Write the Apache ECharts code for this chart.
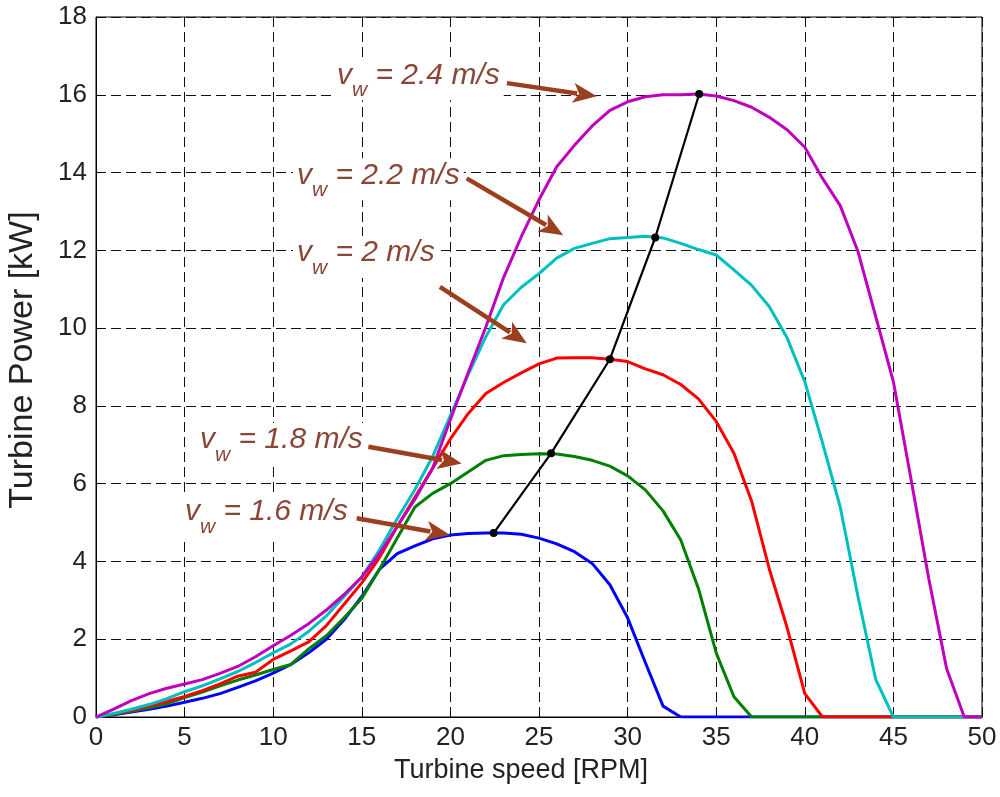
<!DOCTYPE html>
<html lang="en">
<head>
  <meta charset="UTF-8">
  <title>Turbine power vs speed</title>
  <script src="https://cdn.jsdelivr.net/npm/echarts@6/dist/echarts.min.js"></script>
  <style>
    body { margin: 0; background: #ffffff; }
    #main { width: 1000px; height: 797px; }
  </style>
</head>
<body>
  <div id="main"></div>
  <script>
    // turbine speed [RPM], one point per RPM
    const speed = [0,1,2,3,4,5,6,7,8,9,10,11,12,13,14,15,16,17,18,19,20,21,22,23,24,25,
      26,27,28,29,30,31,32,33,34,35,36,37,38,39,40,41,42,43,44,45,46,47,48,49,50];

    // turbine power [kW] per wind speed
    const p16 = [0,0.06,0.13,0.2,0.28,0.38,0.48,0.6,0.76,0.93,1.13,1.35,1.65,2.0,2.5,3.1,3.8,4.2,4.4,4.58,
      4.68,4.72,4.73,4.73,4.7,4.6,4.45,4.25,3.95,3.4,2.55,1.4,0.28,0,0,0,0,0,0,0,0,0,0,0,0,0,0,0,0,0,0];
    const p18 = [0,0.07,0.15,0.24,0.34,0.5,0.64,0.8,0.95,1.08,1.22,1.35,1.75,2.09,2.55,3.05,3.8,4.6,5.4,5.75,
      6.0,6.3,6.6,6.72,6.75,6.77,6.76,6.7,6.6,6.45,6.2,5.84,5.3,4.55,3.3,1.65,0.52,0,0,0,0,0,0,0,0,0,0,0,0,0,0];
    const p20 = [0,0.08,0.17,0.28,0.4,0.53,0.68,0.85,1.05,1.15,1.48,1.7,1.93,2.35,2.9,3.45,4.1,4.9,5.65,6.4,
      7.15,7.8,8.32,8.6,8.85,9.08,9.23,9.24,9.24,9.2,9.14,8.95,8.8,8.55,8.18,7.6,6.78,5.55,3.8,2.3,
      0.6,0,0,0,0,0,0,0,0,0,0];
    const p22 = [0,0.09,0.2,0.32,0.47,0.65,0.8,0.98,1.17,1.4,1.65,1.88,2.2,2.6,3.1,3.6,4.3,5.1,5.85,6.7,
      7.75,8.8,9.78,10.6,11.05,11.4,11.8,12.05,12.18,12.3,12.33,12.36,12.32,12.18,12.02,11.88,11.5,11.1,10.55,9.75,
      8.62,7.05,5.4,3.1,0.97,0,0,0,0,0,0];
    const p24 = [0,0.2,0.42,0.6,0.74,0.85,0.96,1.12,1.3,1.55,1.83,2.1,2.4,2.75,3.15,3.6,4.2,4.9,5.6,6.4,
      7.65,8.85,10.03,11.3,12.35,13.3,14.15,14.7,15.2,15.6,15.82,15.95,16.0,16.0,16.02,15.97,15.85,15.68,15.42,15.1,
      14.65,13.85,13.15,11.97,10.3,8.62,6.1,3.55,1.25,0,0];

    // maximum power points
    const mppSpeed = [22.44, 25.68, 29.0, 31.56, 34.04];
    const mppPower = [4.73, 6.78, 9.2, 12.33, 16.02];

    // annotations: wind speed label, text anchor, arrow tail and head (data units)
    const windLabels = ['2.4', '2.2', '2', '1.8', '1.6'];
    const textAt = [[13.6, 16.5], [11.34, 13.93], [11.34, 11.93], [5.87, 7.12], [5.02, 5.27]];
    const arrowFrom = [[23.19, 16.3], [20.92, 13.85], [19.41, 11.06], [15.37, 6.95], [14.71, 5.11]];
    const arrowTo = [[28.27, 15.96], [26.37, 12.39], [24.31, 9.61], [20.64, 6.52], [19.98, 4.68]];

    const colors = ['#0000ff', '#008000', '#ff0000', '#00bfbf', '#bf00bf'];
    const curves = [p16, p18, p20, p22, p24];
    const font = '"Liberation Sans", Arial, sans-serif';

    var chart = echarts.init(document.getElementById('main'));

    var series = curves.map(function (vals, i) {
      return {
        type: 'line',
        data: speed.map(function (s, k) { return [s, vals[k]]; }),
        showSymbol: false,
        lineStyle: { color: colors[i], width: 3 },
        z: 2
      };
    });
    series.push({
      type: 'line',
      data: mppSpeed.map(function (s, k) { return [s, mppPower[k]]; }),
      symbol: 'circle',
      symbolSize: 8,
      itemStyle: { color: '#000' },
      lineStyle: { color: '#000', width: 2.2 },
      z: 3
    });

    var option = {
      animation: false,
      backgroundColor: '#ffffff',
      grid: {
        left: 96, right: 18, top: 17, bottom: 80,
        outerBoundsMode: 'none',
        show: true, borderColor: '#000', borderWidth: 1, backgroundColor: '#fff'
      },
      xAxis: {
        type: 'value', min: 0, max: 50, interval: 5,
        name: 'Turbine speed [RPM]',
        nameLocation: 'middle', nameGap: 40,
        nameTextStyle: { color: '#222', fontSize: 27, fontFamily: font, padding: [0, 36, 0, 0] },
        axisLine: { lineStyle: { color: '#000' } },
        axisTick: { inside: true, length: 6, lineStyle: { color: '#000' } },
        axisLabel: { color: '#222', fontSize: 26, fontFamily: font, margin: 8 },
        splitLine: { show: true, lineStyle: { color: '#111', type: [10, 5], width: 1 } }
      },
      yAxis: {
        type: 'value', min: 0, max: 18, interval: 2,
        name: 'Turbine Power [kW]',
        nameLocation: 'middle', nameGap: 56,
        nameTextStyle: { color: '#222', fontSize: 34, fontFamily: font, padding: [0, 0, 0, 14] },
        axisLine: { show: true, lineStyle: { color: '#000' } },
        axisTick: { show: true, inside: true, length: 6, lineStyle: { color: '#000' } },
        axisLabel: { color: '#222', fontSize: 26, fontFamily: font, margin: 9 },
        splitLine: { show: true, lineStyle: { color: '#111', type: [10, 5], width: 1 } }
      },
      series: series
    };
    chart.setOption(option);

    // annotation texts and arrows
    var ctx = document.createElement('canvas').getContext('2d');
    function textWidth(t, size) {
      ctx.font = 'italic ' + size + 'px ' + font;
      return ctx.measureText(t).width;
    }
    var txtColor = '#8a4636';
    var arrowColor = '#9c3f1f';
    var graphics = [];
    windLabels.forEach(function (lab, i) {
      var p = chart.convertToPixel({ gridIndex: 0 }, textAt[i]);
      var rest = ' = ' + lab + ' m/s';
      var wv = textWidth('v', 30), ww = textWidth('w', 21), wr = textWidth(rest, 30);
      graphics.push({
        type: 'rect', z: 10,
        shape: { x: p[0] - 4, y: p[1] - 17, width: wv + ww + wr + 8, height: 42 },
        style: { fill: '#ffffff' }
      });
      graphics.push({
        type: 'text', z: 11, x: p[0], y: p[1],
        style: { text: 'v', fill: txtColor, font: 'italic 30px ' + font, verticalAlign: 'middle' }
      });
      graphics.push({
        type: 'text', z: 11, x: p[0] + wv, y: p[1] + 15,
        style: { text: 'w', fill: txtColor, font: 'italic 21px ' + font, verticalAlign: 'middle' }
      });
      graphics.push({
        type: 'text', z: 11, x: p[0] + wv + ww, y: p[1],
        style: { text: rest, fill: txtColor, font: 'italic 30px ' + font, verticalAlign: 'middle' }
      });

      var a = chart.convertToPixel({ gridIndex: 0 }, arrowFrom[i]);
      var b = chart.convertToPixel({ gridIndex: 0 }, arrowTo[i]);
      var dx = b[0] - a[0], dy = b[1] - a[1];
      var len = Math.sqrt(dx * dx + dy * dy);
      var ux = dx / len, uy = dy / len;
      var hl = 24, hw = 10;
      var bx = b[0] - ux * hl, by = b[1] - uy * hl;
      graphics.push({
        type: 'line', z: 12,
        shape: { x1: a[0], y1: a[1], x2: bx + ux * 4, y2: by + uy * 4 },
        style: { stroke: arrowColor, lineWidth: 4.5 }
      });
      graphics.push({
        type: 'polygon', z: 12,
        shape: { points: [[b[0], b[1]], [bx - uy * hw, by + ux * hw], [bx + ux * 6, by + uy * 6], [bx + uy * hw, by - ux * hw]] },
        style: { fill: arrowColor }
      });
    });
    chart.setOption({ graphic: graphics });
  </script>
</body>
</html>
